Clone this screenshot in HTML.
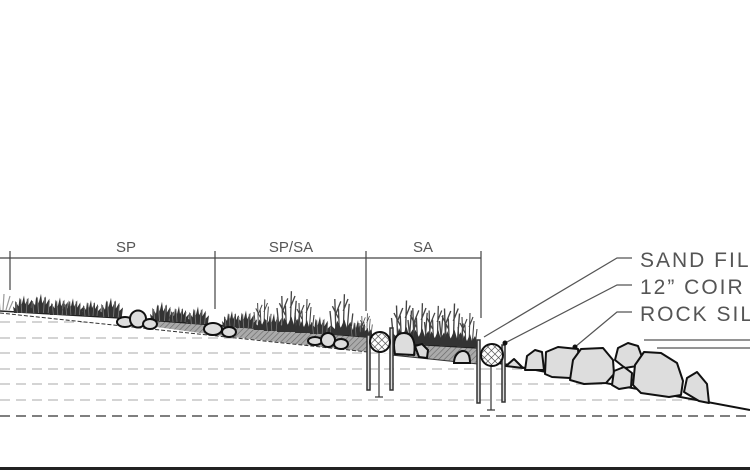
<!DOCTYPE html>
<html><head><meta charset="utf-8"><style>
html,body{margin:0;padding:0;background:#fff}
svg{display:block}
text{font-family:"Liberation Sans",sans-serif;fill:#555}
</style></head><body>
<svg width="750" height="470" viewBox="0 0 750 470" xmlns="http://www.w3.org/2000/svg">
<defs>
<pattern id="hatch" width="4" height="4" patternUnits="userSpaceOnUse" patternTransform="rotate(45)">
<rect width="4" height="4" fill="#aaa"/><line x1="0" y1="0" x2="0" y2="4" stroke="#666" stroke-width="1.2"/>
</pattern>
<pattern id="xh" width="5" height="5" patternUnits="userSpaceOnUse" patternTransform="rotate(45)">
<rect width="5" height="5" fill="#fff"/><path d="M0 0V5M0 0H5" stroke="#444" stroke-width="1.2"/>
</pattern>
<g id="tuft">
<path d="M-9 0 L-10 -6 L-8 -4 L-8 -11 L-5 -6 L-4 -14 L-2 -8 L0 -16 L1 -8 L4 -14 L4 -7 L7 -12 L7 -5 L10 -8 L9 0 Z" fill="#333"/>
<path d="M-6 0L-7 -10M-2 0L-3 -13M2 0L3 -13M6 0L7 -10" stroke="#777" stroke-width="0.8"/>
</g>
<g id="tall" stroke="#444" stroke-width="1.1" fill="none">
<path d="M-8 0L-10 -20M-5 0L-6 -30M-5 -18L-1 -28M-2 0L-3 -22M1 0L2 -34M1 -20L5 -30M4 0L6 -26M7 0L9 -18M-3 -14L-8 -24"/>
<path d="M-10 0 L-9 -8 L-6 -5 L-4 -12 L-1 -6 L2 -13 L4 -6 L7 -11 L10 0Z" fill="#333" stroke="none"/>
</g>
</defs>
<rect x="0" y="0" width="750" height="1.5" fill="#777"/>
<rect x="0" y="467" width="750" height="3" fill="#222"/>
<g stroke="#bbb" stroke-width="1.3" stroke-dasharray="10,6">
<line x1="0" y1="322" x2="750" y2="322"/>
<line x1="0" y1="338" x2="750" y2="338"/>
<line x1="0" y1="353" x2="750" y2="353"/>
<line x1="0" y1="369" x2="750" y2="369"/>
<line x1="0" y1="384" x2="750" y2="384"/>
<line x1="0" y1="400" x2="750" y2="400"/>
</g>
<line x1="0" y1="416" x2="750" y2="416" stroke="#555" stroke-width="1.5" stroke-dasharray="10,6"/>
<polygon points="0,0 750,0 750,410 493,362 368,352 0,313" fill="#fff"/>
<polygon points="120,318 215,325 368,337 368,352 215,335 120,322" fill="url(#hatch)"/>
<polygon points="391,343 478,348 478,364 391,355" fill="url(#hatch)"/>
<polyline points="0,311 120,318 215,325 368,337" fill="none" stroke="#222" stroke-width="1.5"/>
<polyline points="0,313 368,352" fill="none" stroke="#333" stroke-width="1" stroke-dasharray="4,2"/>
<polyline points="391,343 478,348" fill="none" stroke="#222" stroke-width="1.5"/>
<line x1="391" y1="355" x2="478" y2="364" stroke="#333" stroke-width="1"/>
<line x1="493" y1="362" x2="750" y2="410" stroke="#111" stroke-width="2"/>
<g stroke="#444" stroke-width="1.2">
<line x1="0" y1="258" x2="481" y2="258"/>
<line x1="10" y1="251" x2="10" y2="290"/>
<line x1="215" y1="251" x2="215" y2="309"/>
<line x1="366" y1="251" x2="366" y2="311"/>
<line x1="481" y1="251" x2="481" y2="318"/>
</g>
<text x="126" y="252" font-size="15" text-anchor="middle">SP</text>
<text x="291" y="252" font-size="15" text-anchor="middle">SP/SA</text>
<text x="423" y="252" font-size="15" text-anchor="middle">SA</text>
<path d="M0 310l-1-12M3 310l1-16M6 310l4-14M9 310l4-9" stroke="#999" stroke-width="1.2" fill="none"/>
<use href="#tuft" transform="translate(24,313) scale(1.1)"/>
<use href="#tuft" transform="translate(41,313) scale(1.2)"/>
<use href="#tuft" transform="translate(60,315) scale(1.1)"/>
<use href="#tuft" transform="translate(73,315) scale(1.05)"/>
<use href="#tuft" transform="translate(91,316) scale(1)"/>
<use href="#tuft" transform="translate(111,317) scale(1.2)"/>
<use href="#tuft" transform="translate(162,321) scale(1.2)"/>
<use href="#tuft" transform="translate(179,322) scale(1)"/>
<use href="#tuft" transform="translate(198,324) scale(1.1)"/>
<use href="#tuft" transform="translate(232,327) scale(1)"/>
<use href="#tuft" transform="translate(246,328) scale(1.1)"/>
<use href="#tall" transform="translate(263,330) scale(0.9)"/>
<use href="#tuft" transform="translate(274,331) scale(1.1)"/>
<use href="#tall" transform="translate(289,332) scale(1.2)"/>
<use href="#tall" transform="translate(305,333) scale(1)"/>
<use href="#tuft" transform="translate(320,334) scale(1.1)"/>
<use href="#tall" transform="translate(342,335) scale(1.2)"/>
<use href="#tuft" transform="translate(358,336) scale(1)"/>
<use href="#tall" transform="translate(366,337) scale(0.7)"/>
<use href="#tall" transform="translate(404,343) scale(1.25)"/>
<use href="#tall" transform="translate(420,344) scale(1.2)"/>
<use href="#tall" transform="translate(436,345) scale(1.15)"/>
<use href="#tall" transform="translate(452,346) scale(1.25)"/>
<use href="#tall" transform="translate(468,347) scale(1)"/>
<g fill="#ddd" stroke="#111" stroke-width="2">
<ellipse cx="125" cy="322" rx="8" ry="5"/>
<ellipse cx="138" cy="319" rx="8" ry="8.5"/>
<ellipse cx="150" cy="324" rx="7" ry="5"/>
<ellipse cx="213" cy="329" rx="9" ry="6"/>
<ellipse cx="229" cy="332" rx="7" ry="5"/>
<ellipse cx="315" cy="341" rx="7" ry="4"/>
<ellipse cx="328" cy="340" rx="7" ry="7"/>
<ellipse cx="341" cy="344" rx="7" ry="5"/>
<path d="M395 354 C392 340 396 333 404 333 C413 333 416 343 414 355 Z"/>
<path d="M415 346l7-2 6 6-1 8-8-1z"/>
<path d="M454 363 C454 354 460 351 463 351 C468 351 470 356 470 363 Z"/>
</g>
<g stroke="#333" stroke-width="1.5" fill="#ddd">
<rect x="367" y="335" width="3" height="55"/>
<rect x="390" y="328" width="3" height="62"/>
<rect x="477" y="340" width="3" height="63"/>
<rect x="502" y="345" width="3" height="57"/>
</g>
<g stroke="#333" stroke-width="1.2">
<line x1="379" y1="352" x2="379" y2="397"/><line x1="375" y1="397" x2="383" y2="397"/>
<line x1="491" y1="365" x2="491" y2="410"/><line x1="487" y1="410" x2="495" y2="410"/>
</g>
<circle cx="380" cy="342" r="10" fill="url(#xh)" stroke="#111" stroke-width="2"/>
<circle cx="492" cy="355" r="11" fill="url(#xh)" stroke="#111" stroke-width="2"/>
<g fill="#ddd" stroke="#111" stroke-width="2" stroke-linejoin="round">
<path d="M506 366l8-7 9 9z"/>
<path d="M525 370l2-14 8-6 7 2 2 18z"/>
<path d="M545 374l1-22 12-5 20 2 2 24-10 5-18-1z"/>
<path d="M570 380l3-20 8-11 22 -1 10 12 1 14-8 9-22 1z"/>
<path d="M615 360l3-12 10-5 10 3 4 11-5 9-12 2z"/>
<path d="M612 385l2-14 10-4 8 6-1 14-12 2z"/>
<path d="M633 385l2-20 9-13 17 1 16 10 6 18-2 14-12 2-28-4z"/>
<path d="M684 392l3-14 10-6 10 12 2 19-10-2z"/>
</g>
<g stroke="#555" stroke-width="1.2" fill="none">
<polyline points="484,337 617,258 632,258"/>
<polyline points="505,343 617,285 632,285"/>
<polyline points="575,347 617,312 632,312"/>
<line x1="644" y1="340" x2="750" y2="340"/>
<line x1="657" y1="348" x2="750" y2="348"/>
</g>
<circle cx="505" cy="343" r="2.5" fill="#111"/>
<circle cx="575" cy="347" r="2.5" fill="#111"/>
<text x="640" y="267" font-size="21" letter-spacing="2">SAND FIL</text>
<text x="640" y="294" font-size="21" letter-spacing="2">12” COIR</text>
<text x="640" y="321" font-size="21" letter-spacing="2">ROCK SIL</text>
</svg>
</body></html>
